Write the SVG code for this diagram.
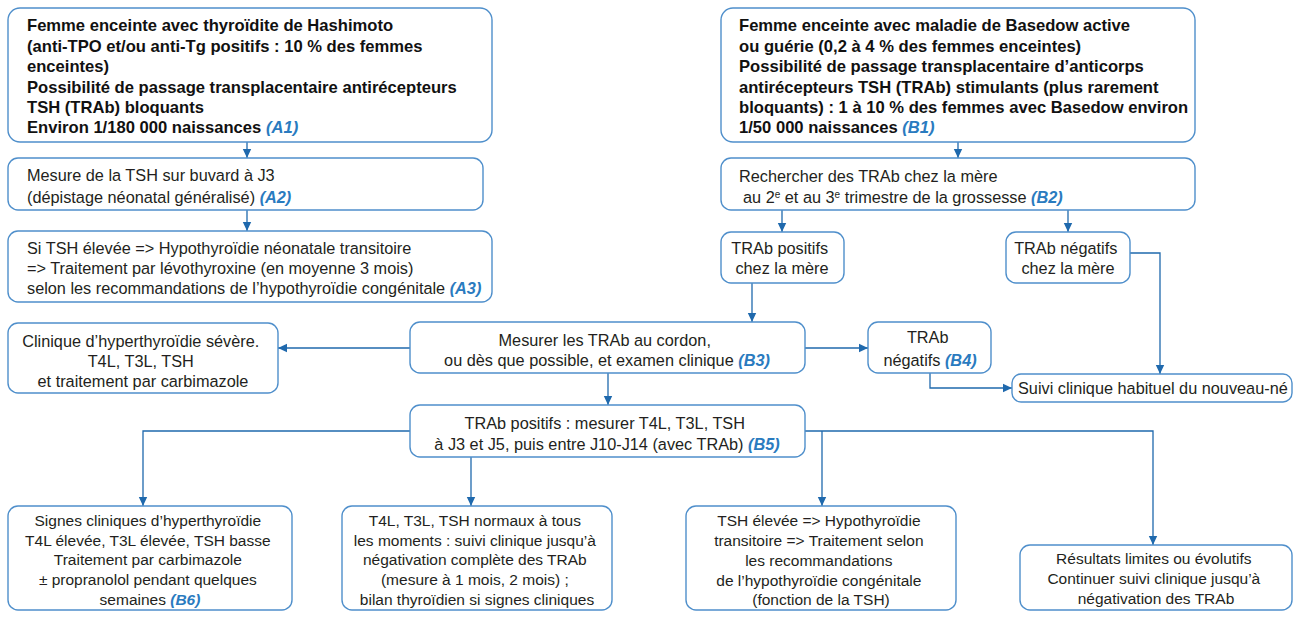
<svg xmlns="http://www.w3.org/2000/svg" width="1295" height="620" viewBox="0 0 1295 620">
<defs>
<style>
.box{fill:#fff;stroke:#4f8fcb;stroke-width:1.4}
.t{font-family:"Liberation Sans",Arial,sans-serif;font-size:16.3px;fill:#231f20}
.s{font-size:15.5px}
.b{font-weight:bold;font-size:16.6px;fill:#111}
.c{text-anchor:middle}
.ref{fill:#2a7bbf;font-weight:bold;font-style:italic}
.sup{font-size:10px}
.con{fill:none;stroke:#1f69ad;stroke-width:1.3}
</style>
<marker id="ah" markerUnits="userSpaceOnUse" markerWidth="10" markerHeight="10" refX="9" refY="5" orient="auto">
<path d="M0,0.8 L9,5 L0,9.2 Z" fill="#1f69ad"/>
</marker>
</defs>
<rect width="1295" height="620" fill="#fff"/>

<g id="connectors">
<path class="con" d="M247,142 V158" marker-end="url(#ah)"/>
<path class="con" d="M247,210 V231" marker-end="url(#ah)"/>
<path class="con" d="M958,142 V158" marker-end="url(#ah)"/>
<path class="con" d="M782,210 V232" marker-end="url(#ah)"/>
<path class="con" d="M1068,210 V232" marker-end="url(#ah)"/>
<path class="con" d="M752,283 V322" marker-end="url(#ah)"/>
<path class="con" d="M1130,253 H1160 V374" marker-end="url(#ah)"/>
<path class="con" d="M410,348 H278" marker-end="url(#ah)"/>
<path class="con" d="M805,348 H868" marker-end="url(#ah)"/>
<path class="con" d="M608,373 V405" marker-end="url(#ah)"/>
<path class="con" d="M930,373 V388 H1012" marker-end="url(#ah)"/>
<path class="con" d="M410,431 H143 V506" marker-end="url(#ah)"/>
<path class="con" d="M471,457 V506" marker-end="url(#ah)"/>
<path class="con" d="M805,431 H1153 V545" marker-end="url(#ah)"/>
<path class="con" d="M822,431 V506" marker-end="url(#ah)"/>
</g>

<g id="A1">
<rect class="box" x="8" y="8" width="484" height="134" rx="12"/>
<text class="t b">
<tspan x="27" y="31">Femme enceinte avec thyroïdite de Hashimoto</tspan>
<tspan x="27" y="51.5">(anti-TPO et/ou anti-Tg positifs : 10 % des femmes</tspan>
<tspan x="27" y="72">enceintes)</tspan>
<tspan x="27" y="92.5">Possibilité de passage transplacentaire antirécepteurs</tspan>
<tspan x="27" y="112.5">TSH (TRAb) bloquants</tspan>
<tspan x="27" y="133">Environ 1/180 000 naissances <tspan class="ref">(A1)</tspan></tspan>
</text>
</g>

<g id="B1">
<rect class="box" x="721" y="8" width="474" height="134" rx="12"/>
<text class="t b">
<tspan x="739" y="31">Femme enceinte avec maladie de Basedow active</tspan>
<tspan x="739" y="51.5">ou guérie (0,2 à 4 % des femmes enceintes)</tspan>
<tspan x="739" y="72">Possibilité de passage transplacentaire d’anticorps</tspan>
<tspan x="739" y="92.5">antirécepteurs TSH (TRAb) stimulants (plus rarement</tspan>
<tspan x="739" y="112.5">bloquants) : 1 à 10 % des femmes avec Basedow environ</tspan>
<tspan x="739" y="133">1/50 000 naissances <tspan class="ref">(B1)</tspan></tspan>
</text>
</g>

<g id="A2">
<rect class="box" x="8" y="158" width="475" height="52" rx="10"/>
<text class="t">
<tspan x="27" y="181">Mesure de la TSH sur buvard à J3</tspan>
<tspan x="27" y="203">(dépistage néonatal généralisé) <tspan class="ref">(A2)</tspan></tspan>
</text>
</g>

<g id="A3">
<rect class="box" x="8" y="231" width="484" height="71" rx="10"/>
<text class="t">
<tspan x="27" y="254">Si TSH élevée =&gt; Hypothyroïdie néonatale transitoire</tspan>
<tspan x="27" y="274">=&gt; Traitement par lévothyroxine (en moyenne 3 mois)</tspan>
<tspan x="27" y="294">selon les recommandations de l’hypothyroïdie congénitale <tspan class="ref">(A3)</tspan></tspan>
</text>
</g>

<g id="B2">
<rect class="box" x="721" y="158" width="474" height="52" rx="10"/>
<text class="t">
<tspan x="739" y="182">Rechercher des TRAb chez la mère</tspan>
<tspan x="743" y="203">au 2<tspan class="sup" dy="-5">e</tspan><tspan dy="5"> et au 3</tspan><tspan class="sup" dy="-5">e</tspan><tspan dy="5"> trimestre de la grossesse </tspan><tspan class="ref">(B2)</tspan></tspan>
</text>
</g>

<g id="TRAbPos">
<rect class="box" x="721" y="232" width="123" height="51" rx="10"/>
<text class="t c">
<tspan x="782" y="254">TRAb positifs</tspan>
<tspan x="782" y="274">chez la mère</tspan>
</text>
</g>

<g id="TRAbNeg">
<rect class="box" x="1006" y="232" width="124" height="51" rx="10"/>
<text class="t c">
<tspan x="1068" y="254">TRAb négatifs</tspan>
<tspan x="1068" y="274">chez la mère</tspan>
</text>
</g>

<g id="Clinique">
<rect class="box" x="8" y="323" width="270" height="70" rx="10"/>
<text class="t c">
<tspan x="143" y="347">Clinique d’hyperthyroïdie sévère.</tspan>
<tspan x="143" y="367">T4L, T3L, TSH</tspan>
<tspan x="143" y="387">et traitement par carbimazole</tspan>
</text>
</g>

<g id="B3">
<rect class="box" x="410" y="322" width="395" height="51" rx="10"/>
<text class="t c">
<tspan x="607" y="346">Mesurer les TRAb au cordon,</tspan>
<tspan x="607" y="366">ou dès que possible, et examen clinique <tspan class="ref">(B3)</tspan></tspan>
</text>
</g>

<g id="B4">
<rect class="box" x="868" y="322" width="123" height="51" rx="10"/>
<text class="t c">
<tspan x="930" y="343">TRAb</tspan>
<tspan x="930" y="366">négatifs <tspan class="ref">(B4)</tspan></tspan>
</text>
</g>

<g id="Suivi">
<rect class="box" x="1012" y="374" width="280" height="28" rx="9"/>
<text class="t" x="1018" y="393.5">Suivi clinique habituel du nouveau-né</text>
</g>

<g id="B5">
<rect class="box" x="410" y="405" width="395" height="52" rx="10"/>
<text class="t c">
<tspan x="607" y="429">TRAb positifs : mesurer T4L, T3L, TSH</tspan>
<tspan x="607" y="450">à J3 et J5, puis entre J10-J14 (avec TRAb) <tspan class="ref">(B5)</tspan></tspan>
</text>
</g>

<g id="B6">
<rect class="box" x="8" y="506" width="284" height="104" rx="10"/>
<text class="t s c">
<tspan x="150" y="526">Signes cliniques d’hyperthyroïdie</tspan>
<tspan x="150" y="546">T4L élevée, T3L élevée, TSH basse</tspan>
<tspan x="150" y="565">Traitement par carbimazole</tspan>
<tspan x="150" y="585">± propranolol pendant quelques</tspan>
<tspan x="150" y="605">semaines <tspan class="ref">(B6)</tspan></tspan>
</text>
</g>

<g id="Normaux">
<rect class="box" x="342" y="506" width="270" height="104" rx="10"/>
<text class="t s c">
<tspan x="477" y="526">T4L, T3L, TSH normaux à tous</tspan>
<tspan x="477" y="546">les moments : suivi clinique jusqu’à</tspan>
<tspan x="477" y="565">négativation complète des TRAb</tspan>
<tspan x="477" y="585">(mesure à 1 mois, 2 mois) ;</tspan>
<tspan x="477" y="605">bilan thyroïdien si signes cliniques</tspan>
</text>
</g>

<g id="TSHelevee">
<rect class="box" x="686" y="506" width="270" height="104" rx="10"/>
<text class="t s c">
<tspan x="821" y="526">TSH élevée =&gt; Hypothyroïdie</tspan>
<tspan x="821" y="546">transitoire =&gt; Traitement selon</tspan>
<tspan x="821" y="566">les recommandations</tspan>
<tspan x="821" y="586">de l’hypothyroïdie congénitale</tspan>
<tspan x="821" y="605">(fonction de la TSH)</tspan>
</text>
</g>

<g id="Resultats">
<rect class="box" x="1020" y="545" width="272" height="65" rx="10"/>
<text class="t s c">
<tspan x="1156" y="564">Résultats limites ou évolutifs</tspan>
<tspan x="1156" y="584">Continuer suivi clinique jusqu’à</tspan>
<tspan x="1156" y="604">négativation des TRAb</tspan>
</text>
</g>
</svg>
